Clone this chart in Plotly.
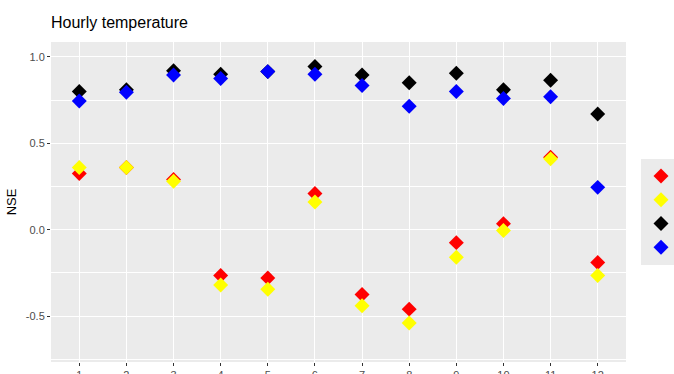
import plotly.graph_objects as go

hours = list(range(1, 13))
tick_labels = [str(h) for h in hours]

series_names = ["A", "B", "C", "D"]
series_colors = ["#ff0000", "#ffff00", "#000000", "#0000ff"]

red_vals = [0.325, 0.36, 0.29, -0.265, -0.28, 0.21, -0.375, -0.46, -0.075, 0.035, 0.42, -0.19]
yellow_vals = [0.36, 0.36, 0.28, -0.32, -0.345, 0.16, -0.44, -0.54, -0.16, -0.005, 0.41, -0.265]
black_vals = [0.80, 0.81, 0.92, 0.90, 0.915, 0.945, 0.895, 0.85, 0.905, 0.81, 0.865, 0.67]
blue_vals = [0.745, 0.795, 0.895, 0.875, 0.915, 0.90, 0.835, 0.715, 0.80, 0.76, 0.77, 0.245]

all_vals = [red_vals, yellow_vals, black_vals, blue_vals]

fig = go.Figure()
for name, col, vals in zip(series_names, series_colors, all_vals):
    fig.add_trace(go.Scatter(
        x=hours, y=vals, mode="markers", name="",
        marker=dict(symbol="diamond", size=11.5, color=col, line=dict(width=0)),
        showlegend=True,
    ))

fig.update_layout(
    width=674, height=374,
    margin=dict(l=51, r=48, t=42, b=12, autoexpand=False),
    paper_bgcolor="white",
    plot_bgcolor="#ebebeb",
    font=dict(family="Liberation Sans, Arial, sans-serif", color="#4d4d4d", size=11),
    title=dict(text="Hourly temperature", x=51/674, xanchor="left", y=1-22/374, yanchor="middle",
               font=dict(size=16, color="black")),
    legend=dict(xref="container", yref="container", x=641/674, xanchor="left",
                y=1-212/374, yanchor="middle",
                bgcolor="#ebebeb", font=dict(size=16), itemwidth=30,
                tracegroupgap=0),
)
fig.update_xaxes(
    range=[0.4, 12.6], tickmode="array", tickvals=hours, ticktext=tick_labels,
    showgrid=True, gridcolor="white", gridwidth=1.1, zeroline=False,
    ticks="outside", ticklen=3, tickcolor="#333333", tickfont=dict(size=11, color="#4d4d4d"),
    showline=False, automargin=False,
)
fig.update_yaxes(
    range=[-0.766, 1.0865], tickmode="array", tickvals=[-0.5, 0.0, 0.5, 1.0],
    ticktext=["-0.5", "0.0", "0.5", "1.0"],
    showgrid=True, gridcolor="white", gridwidth=1.1, zeroline=False,
    ticks="outside", ticklen=3, tickcolor="#333333", tickfont=dict(size=11, color="#4d4d4d"),
    minor=dict(tickvals=[-0.75, -0.25, 0.25, 0.75], showgrid=True, gridcolor="white", gridwidth=0.5, ticks=""),
    title=dict(text="NSE", font=dict(size=13, color="black"), standoff=6),
    automargin=False,
)

fig.write_html("out.html")
